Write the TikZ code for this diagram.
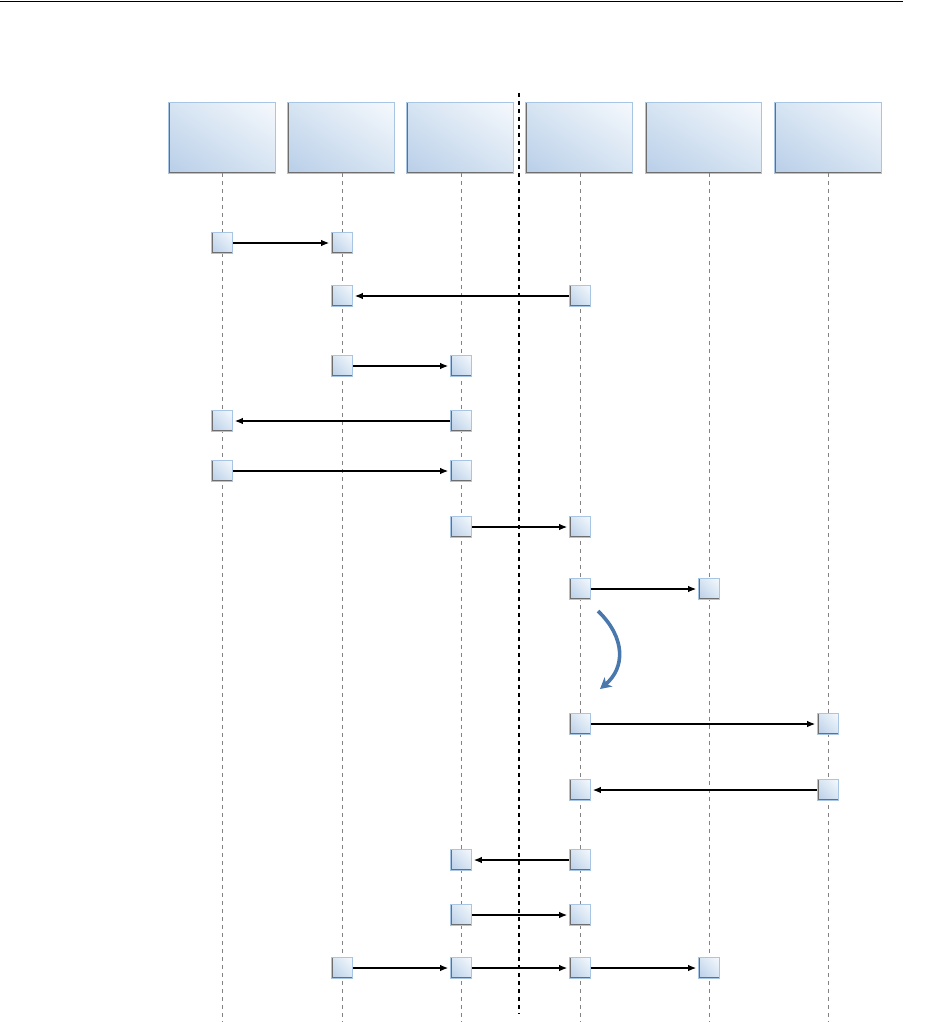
\documentclass[tikz,border=0pt]{standalone}
\usetikzlibrary{arrows.meta,shadings}
\definecolor{bdark}{RGB}{184,206,232}
\definecolor{bmid}{RGB}{214,228,242}
\definecolor{blight}{RGB}{246,249,253}
\definecolor{bedge}{RGB}{168,198,228}
\definecolor{shadowgrey}{RGB}{110,110,110}
\definecolor{lifegrey}{RGB}{130,130,130}
\definecolor{curveblue}{RGB}{72,120,172}
\tikzset{
  boxshade/.style={lower left=bdark, upper right=blight, upper left=bmid, lower right=bmid,
    draw=bedge, line width=0.8pt,
    path picture={\draw[shadowgrey, line width=2.4pt]
      (path picture bounding box.north west) |- (path picture bounding box.south east);}},
  header/.style={boxshade, rectangle, anchor=north west, inner sep=0pt,
    minimum width=107pt, minimum height=71pt},
  act/.style={boxshade, rectangle, inner sep=0pt, minimum size=21pt},
  lifeline/.style={lifegrey, line width=1pt, dash pattern=on 4pt off 4pt},
  divider/.style={black, line width=1.1pt, dash pattern=on 4pt off 4pt},
  msg/.style={black, line width=1.1pt, -{Latex[length=8pt,width=6.5pt]}, shorten >=2pt},
  curvearrow/.style={curveblue, line width=3.6pt, -{Stealth[length=11pt,width=12pt,inset=3pt]}}
}
\begin{document}
\begin{tikzpicture}[x=1pt,y=-1pt]
\useasboundingbox (0,0) rectangle (924,1022);
% top rule
\coordinate (ruleL) at (0,1.5);
\coordinate (ruleR) at (903,1.5);
\draw[black, line width=1.4pt] (ruleL) -- (ruleR);
% divider
\coordinate (divT) at (519,93);
\coordinate (divB) at (519,1014);
\draw[divider] (divT) -- (divB);
% headers
\node[header] (h1) at (168,102) {};
\node[header] (h2) at (287,102) {};
\node[header] (h3) at (406,102) {};
\node[header] (h4) at (525,102) {};
\node[header, minimum width=116pt] (h5) at (645,102) {};
\node[header] (h6) at (774,102) {};
% lifelines
\foreach \i/\x in {1/222,2/342,3/461,4/580,5/709,6/828}{
  \coordinate (l\i t) at (\x,173);
  \coordinate (l\i b) at (\x,1022);
  \draw[lifeline] (l\i t) -- (l\i b);
}
% activation boxes
\node[act] (a1L) at (222,243) {};
\node[act] (a1R) at (342,243) {};
\node[act] (a2L) at (342,296) {};
\node[act] (a2R) at (580,296) {};
\node[act] (a3L) at (342,366) {};
\node[act] (a3R) at (461,366) {};
\node[act] (a4L) at (222,421) {};
\node[act] (a4R) at (461,421) {};
\node[act] (a5L) at (222,471) {};
\node[act] (a5R) at (461,471) {};
\node[act] (a6L) at (461,527) {};
\node[act] (a6R) at (580,527) {};
\node[act] (a7L) at (580,589) {};
\node[act] (a7R) at (709,589) {};
\node[act] (a8L) at (580,724) {};
\node[act] (a8R) at (828,724) {};
\node[act] (a9L) at (580,790) {};
\node[act] (a9R) at (828,790) {};
\node[act] (a10L) at (461,860) {};
\node[act] (a10R) at (580,860) {};
\node[act] (a11L) at (461,915) {};
\node[act] (a11R) at (580,915) {};
\node[act] (a12A) at (342,968) {};
\node[act] (a12B) at (461,968) {};
\node[act] (a12C) at (580,968) {};
\node[act] (a12D) at (709,968) {};
% messages
\draw[msg] (a1L) -- (a1R);
\draw[msg] (a2R) -- (a2L);
\draw[msg] (a3L) -- (a3R);
\draw[msg] (a4R) -- (a4L);
\draw[msg] (a5L) -- (a5R);
\draw[msg] (a6L) -- (a6R);
\draw[msg] (a7L) -- (a7R);
\draw[msg] (a8L) -- (a8R);
\draw[msg] (a9R) -- (a9L);
\draw[msg] (a10R) -- (a10L);
\draw[msg] (a11L) -- (a11R);
\draw[msg] (a12A) -- (a12B);
\draw[msg] (a12B) -- (a12C);
\draw[msg] (a12C) -- (a12D);
% curved arrow
\coordinate (cS) at (598,611);
\coordinate (cE) at (600,689);
\draw[curvearrow] (cS) .. controls (626,638) and (625,668) .. (cE);
\end{tikzpicture}
\end{document}
